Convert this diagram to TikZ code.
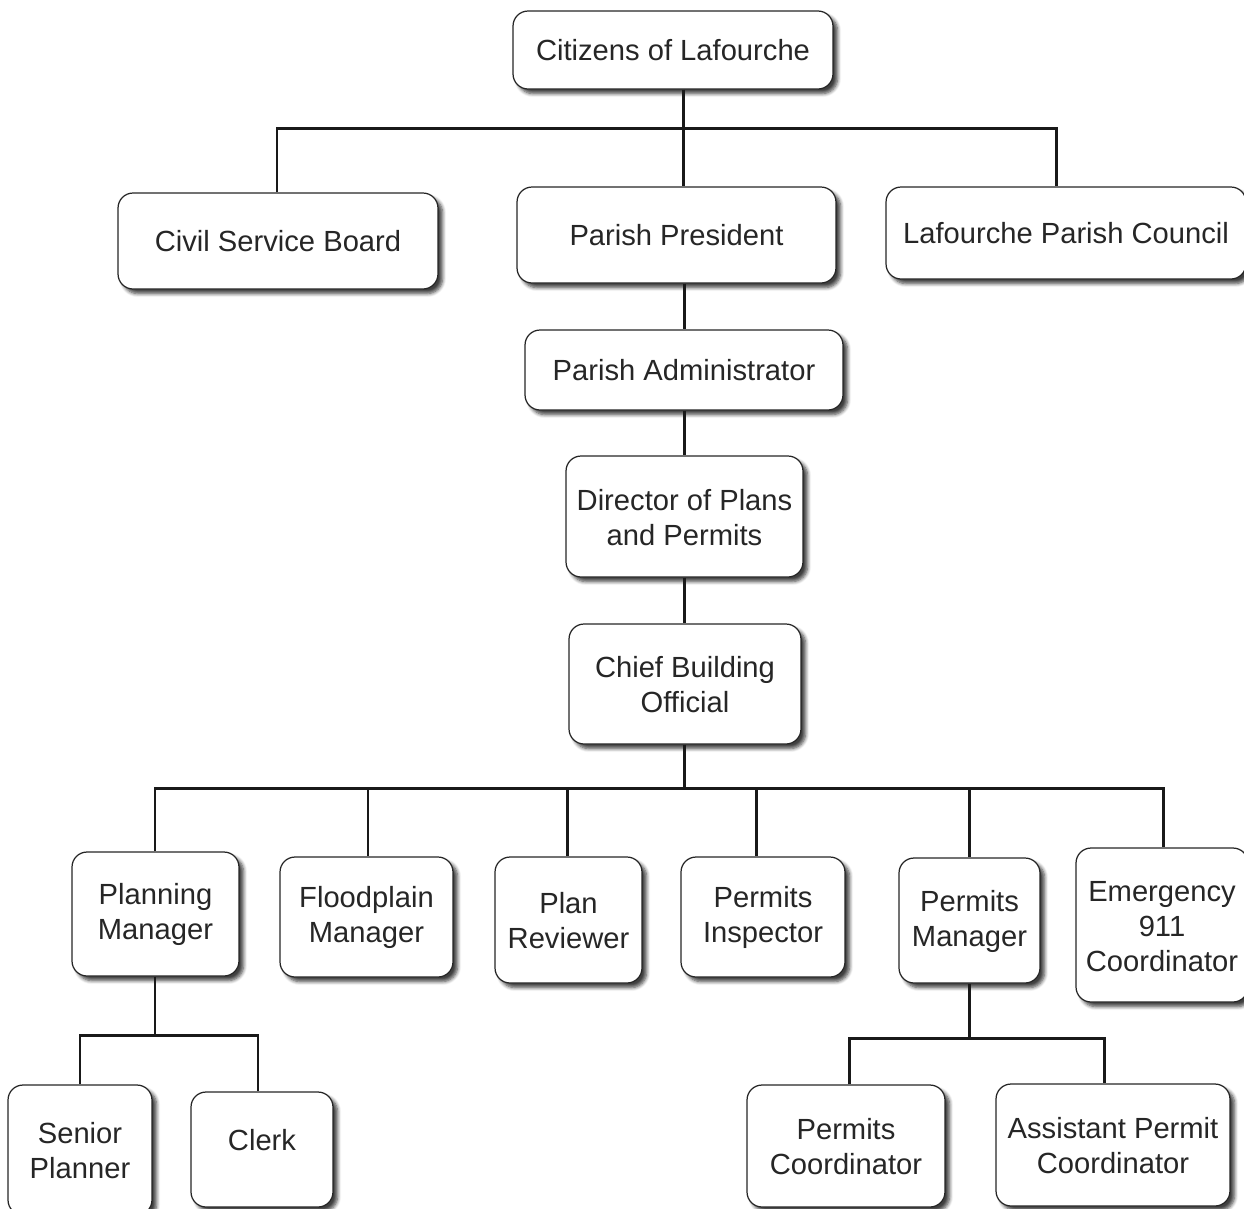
\documentclass[tikz,border=0pt]{standalone}
\usepackage{fontspec}
\setmainfont{Liberation Sans}
\usetikzlibrary{shadows.blur,calc}
\begin{document}
\begin{tikzpicture}[x=0.02cm,y=-0.02cm,
  box/.style={draw=black!85, line width=0.7pt, fill=white, rounded corners=0.3cm,
    align=center, inner sep=0pt, text=black!85,
    font=\fontsize{16.6}{19.9}\selectfont,
    blur shadow={shadow xshift=2.6pt, shadow yshift=-2.6pt, shadow blur radius=2pt, shadow blur steps=6, shadow opacity=75}},
  link/.style={draw=black!90, line width=1.7pt}]
\useasboundingbox (0,0) rectangle (1244,1208);
% nodes: minimum width/height in cm = px*0.02
\node[box, minimum width=6.40cm, minimum height=1.56cm] (cit) at (673,50) {Citizens of Lafourche};
\node[box, minimum width=6.40cm, minimum height=1.92cm] (csb) at (278,241) {Civil Service Board};
\node[box, minimum width=6.38cm, minimum height=1.92cm] (pp) at (676.5,235) {Parish President};
\node[box, minimum width=7.20cm, minimum height=1.84cm] (lpc) at (1066,233) {Lafourche Parish Council};
\node[box, minimum width=6.36cm, minimum height=1.60cm] (pa) at (684,370) {Parish Administrator};
\node[box, minimum width=4.74cm, minimum height=2.42cm] (dir) at (684.5,516.5) {\rule{0pt}{13pt}Director of Plans\\and Permits};
\node[box, minimum width=4.64cm, minimum height=2.40cm] (cbo) at (685,684) {\rule{0pt}{13pt}Chief Building\\Official};
\node[box, minimum width=3.34cm, minimum height=2.48cm] (pm) at (155.5,914) {\rule{0pt}{13pt}Planning\\Manager};
\node[box, minimum width=3.46cm, minimum height=2.40cm] (fm) at (366.5,917) {\rule{0pt}{13pt}Floodplain\\Manager};
\node[box, minimum width=2.94cm, minimum height=2.52cm] (pr) at (568.5,920) {\rule{0pt}{13pt}Plan\\Reviewer};
\node[box, minimum width=3.28cm, minimum height=2.40cm] (pi) at (763,917) {\rule{0pt}{13pt}Permits\\Inspector};
\node[box, minimum width=2.82cm, minimum height=2.50cm] (pmg) at (969.5,920.5) {\rule{0pt}{13pt}Permits\\Manager};
\node[box, minimum width=3.44cm, minimum height=3.08cm] (em) at (1162,925) {\rule{0pt}{13pt}Emergency\\911\\Coordinator};
\node[box, minimum width=2.88cm, minimum height=2.60cm] (sp) at (80,1150) {\rule{0pt}{13pt}Senior\\Planner};
\node[box, minimum width=2.84cm, minimum height=2.30cm] (clerk) at (262,1149.5) {Clerk\\[-8.5pt]};
\node[box, minimum width=3.96cm, minimum height=2.44cm] (pc) at (846,1146) {\rule{0pt}{13pt}Permits\\Coordinator};
\node[box, minimum width=4.68cm, minimum height=2.44cm] (apc) at (1113,1145) {\rule{0pt}{13pt}Assistant Permit\\Coordinator};
% bus coordinates
\coordinate (b1) at (683,128);
\coordinate (b2) at (684,788);
\coordinate (b3) at (155,1035);
\coordinate (b4) at (969,1038);
% connectors
\draw[link] (b1 |- cit.south) -- (b1);
\draw[link] (277,0 |- csb.north) -- (277,128) -- (1056,128) -- (1056,0 |- lpc.north);
\draw[link] (b1) -- (683,0 |- pp.north);
\draw[link] (684,0 |- pp.south) -- (684,0 |- pa.north);
\draw[link] (684,0 |- pa.south) -- (684,0 |- dir.north);
\draw[link] (684,0 |- dir.south) -- (684,0 |- cbo.north);
\draw[link] (684,0 |- cbo.south) -- (b2);
\draw[link] (155,0 |- pm.north) -- (155,788) -- (1163,788) -- (1163,0 |- em.north);
\draw[link] (368,788) -- (368,0 |- fm.north);
\draw[link] (567,788) -- (567,0 |- pr.north);
\draw[link] (756,788) -- (756,0 |- pi.north);
\draw[link] (969,788) -- (969,0 |- pmg.north);
\draw[link] (155,0 |- pm.south) -- (b3);
\draw[link] (80,0 |- sp.north) -- (80,1035) -- (258,1035) -- (258,0 |- clerk.north);
\draw[link] (969,0 |- pmg.south) -- (b4);
\draw[link] (849,0 |- pc.north) -- (849,1038) -- (1104,1038) -- (1104,0 |- apc.north);
\end{tikzpicture}
\end{document}
